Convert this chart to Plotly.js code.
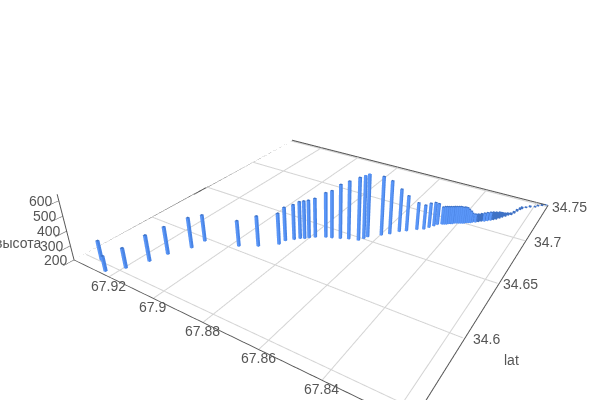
<!DOCTYPE html>
<html><head><meta charset="utf-8"><script src="https://cdn.plot.ly/plotly-3.0.1.min.js"></script>
<style>html,body{margin:0;padding:0;background:#fff;overflow:hidden;width:600px;height:400px}#c{position:absolute;left:-20px;top:-36px;width:700px;height:473px}</style></head><body><div id="c"></div><script>
var lon=[67.9297,67.9235,67.9194,67.9160,67.9140,67.9101,67.9093,67.8973,67.8917,67.8865,67.8860,67.8839,67.8825,67.8812,67.8801,67.8785,67.8754,67.8734,67.8707,67.8681,67.8648,67.8638,67.8632,67.8597,67.8576,67.8555,67.8535,67.8508,67.8488,67.8477,67.8467,67.8460,67.8447,67.8440,67.8434,67.8429,67.8424,67.8417,67.8413,67.8406,67.8400,67.8394,67.8387,67.8382,67.8377,67.8371,67.8364,67.8360,67.8350,67.8342,67.8334,67.8325,67.8317,67.8308,67.8301,67.8293,67.8285,67.8279,67.8271,67.8265,67.8256,67.8250,67.8245,67.8239,67.8235,67.8224,67.8212,67.8196,67.8189,67.8177,67.8164];
var lat=[34.5512,34.5454,34.5534,34.5650,34.5756,34.5878,34.5973,34.6040,34.6101,34.6184,34.6235,34.6274,34.6303,34.6317,34.6337,34.6363,34.6397,34.6411,34.6432,34.6455,34.6473,34.6507,34.6536,34.6597,34.6638,34.6694,34.6724,34.6773,34.6800,34.6836,34.6870,34.6897,34.6917,34.6923,34.6930,34.6942,34.6949,34.6955,34.6969,34.6975,34.6982,34.6988,34.6995,34.7003,34.7015,34.7021,34.7028,34.7041,34.7052,34.7068,34.7084,34.7094,34.7110,34.7126,34.7143,34.7159,34.7182,34.7204,34.7227,34.7250,34.7267,34.7297,34.7333,34.7364,34.7384,34.7410,34.7433,34.7451,34.7476,34.7496,34.7518];
var height=[336,304,338,381,392,413,388,381,414,419,438,449,463,468,469,478,517,535,581,606,638,645,643,615,578,506,455,396,377,379,373,355,327,331,331,327,327,327,324,324,324,324,320,320,313,301,287,267,260,256,256,260,260,260,256,252,245,234,223,215,211,211,211,211,211,205,208,204,204,204,204];
var xTicks=[67.92,67.9,67.88,67.86,67.84,67.82];
var yTicks=[34.75,34.7,34.65,34.6,34.55];
var zTicks=[200,300,400,500,600];
var xr=[67.9374,67.8157],yr=[34.5428,34.752],zr=[199.5,640];
var xs=[],ys=[],zs=[],I=[],J=[],K=[];
var w=0.00046,d=0.00076,base=200;
lon.forEach(function(a,n){var o=xs.length;var b=lat[n],t=height[n];
[[-1,-1,base],[1,-1,base],[1,1,base],[-1,1,base],[-1,-1,t],[1,-1,t],[1,1,t],[-1,1,t]].forEach(function(p){xs.push(a+p[0]*w);ys.push(b+p[1]*d);zs.push(p[2]);});
[[0,1,2],[0,2,3],[4,5,6],[4,6,7],[0,1,5],[0,5,4],[1,2,6],[1,6,5],[2,3,7],[2,7,6],[3,0,4],[3,4,7]].forEach(function(f){I.push(o+f[0]);J.push(o+f[1]);K.push(o+f[2]);});});
var eps=0.0003,x0=xr[0]-eps,x1=xr[1]+eps,y0=yr[0]+eps,y1=yr[1]-eps,fl=200;
var gx=[],gy=[],gz=[];
xTicks.forEach(function(t){gx.push(t,t,null);gy.push(y0,y1,null);gz.push(fl,fl,null);});
yTicks.forEach(function(t){gx.push(x0,x1,null);gy.push(t,t,null);gz.push(fl,fl,null);});
var ex=[x1,x0,x0],ey=[y1,y1,y0],ez=[fl+1,fl+1,fl+1];
var font={size:14,color:'#555',family:'Arial'};
var ax={showbackground:false,showgrid:false,showline:true,linecolor:'#555',linewidth:2,zeroline:false,showticklabels:false,showspikes:false,ticks:'',title:{text:''}};
var ann=[];
xTicks.forEach(function(t){ann.push({x:t,y:y0,z:fl,text:String(t),showarrow:false,font:font,xanchor:'center',yanchor:'middle',xshift:-1,yshift:-9});});
yTicks.forEach(function(t){ann.push({x:x1,y:t,z:fl,text:String(t),showarrow:false,font:font,xanchor:'center',yanchor:'middle',xshift:23,yshift:-1});});
zTicks.forEach(function(t){ann.push({x:x0,y:y0,z:t,text:String(t),showarrow:false,font:font,xanchor:'right',yanchor:'middle',xshift:-5,yshift:0});});
Plotly.newPlot('c',[
 {type:'scatter3d',mode:'lines',x:gx,y:gy,z:gz,line:{color:'#d4d4d4',width:2},hoverinfo:'skip',connectgaps:false},
 {type:'scatter3d',mode:'lines',x:ex,y:ey,z:ez,line:{color:'#555',width:2},hoverinfo:'skip'},
 {type:'mesh3d',x:xs,y:ys,z:zs,i:I,j:J,k:K,color:'#4a86e8',flatshading:true,hoverinfo:'skip',lighting:{ambient:0.85,diffuse:0.6,specular:0.3}}],{
 width:700,height:473,margin:{l:0,r:0,t:0,b:0},paper_bgcolor:'#fff',showlegend:false,
 annotations:[
  {xref:'paper',yref:'paper',x:(511+20)/700,y:1-(360+36)/473,text:'lat',showarrow:false,font:font,xanchor:'center',yanchor:'middle'},
  {xref:'paper',yref:'paper',x:(18+20)/700,y:1-(243+36)/473,text:'высота',showarrow:false,font:font,xanchor:'center',yanchor:'middle'}],
 scene:{aspectmode:'manual',aspectratio:{x:1,y:1,z:0.2},camera:{eye:{x:0.77,y:-1.205,z:0.775},center:{x:0,y:0,z:0},up:{x:0,y:0,z:1}},
 annotations:ann,
 xaxis:Object.assign({},ax,{range:xr}),
 yaxis:Object.assign({},ax,{range:yr}),
 zaxis:Object.assign({},ax,{ticks:'outside',ticklen:3,tickcolor:'#555',range:zr,tickvals:zTicks})}
},{displayModeBar:false});
</script></body></html>
